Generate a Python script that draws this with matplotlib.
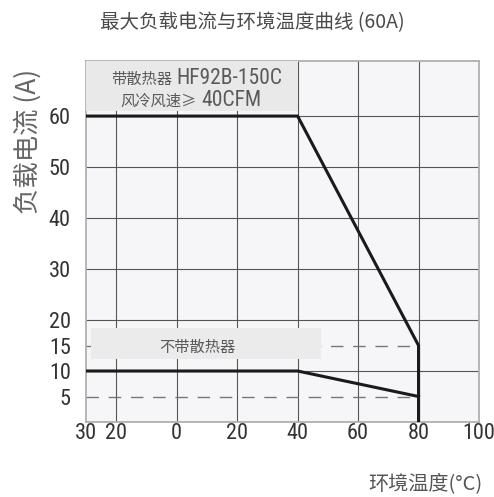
import matplotlib
matplotlib.use('Agg')
import matplotlib.pyplot as plt
from matplotlib.patches import Rectangle
from matplotlib import font_manager

# data
x_ticks = [-30, -20, 0, 20, 40, 60, 80, 100]
x_labels = ['30', '20', '0', '20', '40', '60', '80', '100']
y_ticks = [5, 10, 15, 20, 30, 40, 50, 60]
y_labels = ['5', '10', '15', '20', '30', '40', '50', '60']

# with heatsink HF92B-150C, forced air >= 40CFM
temp_hs = [-30, 40, 80, 80]
curr_hs = [60, 60, 15, 0]
# without heatsink
temp_nohs = [-30, 40, 80]
curr_nohs = [10, 10, 5]

# reference levels (dashed)
ref_levels = [15, 5]

names = set(f.name for f in font_manager.fontManager.ttflist)
narrow = 'Roboto'
for cand in ['Liberation Sans Narrow', 'Roboto Condensed', 'Open Sans Condensed']:
    if cand in names:
        narrow = cand
        break
cjk = 'Noto Sans CJK SC'

grey_txt = '#5a5a5a'

fig = plt.figure(figsize=(4.94, 4.97), dpi=100)
ax = fig.add_axes([86/494, 1-422/497, 393/494, 361/497])
ax.set_facecolor('#f6f6f9')
ax.set_xlim(-30, 100)
ax.set_ylim(0, 70.8)

# grid
for xv in [-20, 0, 20, 40, 60, 80]:
    ax.axvline(xv, color='#555555', lw=0.8, zorder=1)
for yv in [10, 20, 30, 40, 50, 60]:
    ax.axhline(yv, color='#555555', lw=0.8, zorder=1)

for lv in ref_levels:
    ax.plot([-30, 80], [lv, lv], color='#777777', lw=1.0,
            dashes=(9, 7), zorder=2)

# label boxes
ax.add_patch(Rectangle((-30, 60.9), 70, 12, facecolor='#e9e9e9',
                       edgecolor='none', zorder=3))
ax.add_patch(Rectangle((-28.3, 12.4), 76.1, 6.0, facecolor='#ebebeb',
                       edgecolor='none', zorder=3))

ax.plot(temp_hs, curr_hs, color='#1a1a1a', lw=2.2, zorder=4,
        solid_joinstyle='miter')
ax.plot(temp_nohs, curr_nohs, color='#1a1a1a', lw=2.2, zorder=4,
        solid_joinstyle='miter')

for s in ax.spines.values():
    s.set_color('#b0b0b0')
    s.set_linewidth(1.3)

ax.set_xticks(x_ticks)
ax.set_xticklabels(x_labels)
ax.set_yticks(y_ticks)
ax.set_yticklabels(y_labels)
ax.tick_params(length=0, labelsize=16, labelcolor='#333333')
ax.tick_params(axis='x', pad=1)
ax.tick_params(axis='y', pad=11)
for lab in ax.get_xticklabels() + ax.get_yticklabels():
    lab.set_family(narrow)

# box texts (pixel positions converted to figure fractions)
def fx(px):
    return px / 494

def fy(py):
    return 1 - py / 497

fig.text(fx(172), fy(79), '带散热器', family=cjk, fontsize=11,
         color=grey_txt, ha='right', va='center', zorder=5)
fig.text(fx(176), fy(79), 'HF92B-150C', family=narrow, fontsize=15.5,
         color=grey_txt, ha='left', va='center', zorder=5)
fig.text(fx(197), fy(101), '风冷风速≥', family=[cjk, 'DejaVu Sans'], fontsize=11,
         color=grey_txt, ha='right', va='center', zorder=5)
fig.text(fx(201), fy(101), '40CFM', family=narrow, fontsize=15.5,
         color=grey_txt, ha='left', va='center', zorder=5)
fig.text(fx(197), fy(347), '不带散热器', family=cjk, fontsize=11,
         color=grey_txt, ha='center', va='center', zorder=5)

fig.text(fx(252), fy(23), '最大负载电流与环境温度曲线 (60A)', family=[cjk, narrow],
         fontsize=14, color='#4a4a4a', ha='center', va='center')
fig.text(fx(28), fy(141), '负载电流 (A)', family=[cjk, narrow], fontsize=19,
         color='#666666', ha='center', va='center', rotation=90)
fig.text(fx(425), fy(484), '环境温度(°C)', family=[cjk, narrow], fontsize=14.5,
         color='#555555', ha='center', va='center')

fig.savefig('out.png', dpi=100, facecolor='white')
